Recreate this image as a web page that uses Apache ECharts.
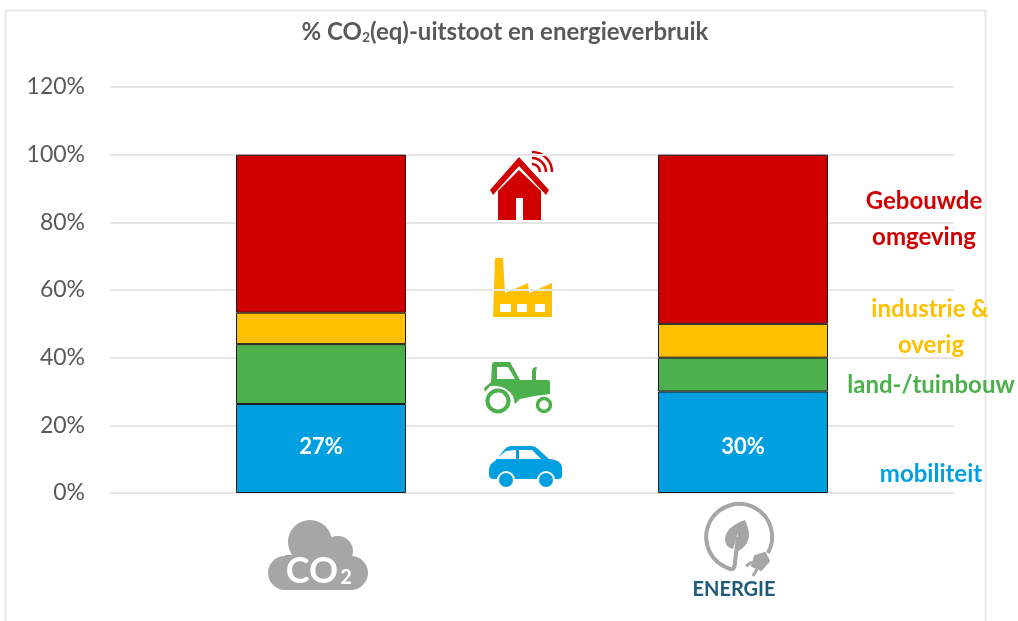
<!DOCTYPE html>
<html><head><meta charset="utf-8">
<style>html,body{margin:0;padding:0;background:#fff}#c{width:1018px;height:621px;filter:blur(0.6px)}</style>
<script src="https://cdn.jsdelivr.net/npm/echarts@6/dist/echarts.min.js"></script>
</head><body><div id="c"></div>
<script>
const categories = ['CO2', 'ENERGIE'];
const mobiliteit = [26.3, 30];
const landTuinbouw = [17.7, 10];
const industrie = [9.3, 10];
const gebouwd = [46.7, 50];
const barLabels = ['27%', '30%'];
const yTicks = [0, 20, 40, 60, 80, 100, 120];

const RED = '#d00000', YEL = '#ffc000', GRN = '#4cb04c', BLU = '#00a0e0', GRY = '#a6a6a6';
const FONT = 'Lato, "Open Sans", sans-serif';
const chart = echarts.init(document.getElementById('c'), null, {renderer: 'canvas'});

function bar(name, data, color, label) {
  const s = {name, type: 'bar', stack: 'a', data, barWidth: 170,
    itemStyle: {color, borderColor: '#1a1a1a', borderWidth: 1}};
  if (label) s.label = {show: true, position: 'insideBottom', distance: 35, color: '#fff', fontFamily: FONT,
    fontWeight: 'bold', fontSize: 22, formatter: p => barLabels[p.dataIndex]};
  return s;
}
function txt(text, x, y, fill, size) {
  return {type: 'text', x, y, silent: true,
    style: {text, fill, font: 'bold ' + (size || 24) + 'px ' + FONT, textAlign: 'center', textVerticalAlign: 'middle'}};
}
let shapeCount = 0;
function p(d, fill, stroke, lw) {
  const name = 'iconShape' + (shapeCount++);
  echarts.graphic.registerShape(name, echarts.graphic.extendPath(d, {}));
  return {type: name, silent: true, style: {fill: fill || 'none', stroke: stroke || 'none', lineWidth: lw || 0}};
}
function ring(cx, cy, r, stroke, lw, fill) {
  return {type: 'circle', silent: true, shape: {cx, cy, r}, style: {fill: fill || '#fff', stroke, lineWidth: lw}};
}
function disc(cx, cy, r, fill) {
  return {type: 'circle', silent: true, shape: {cx, cy, r}, style: {fill}};
}

const graphics = [
  {type: 'rect', silent: true, z: -5, shape: {x: 5.5, y: 10.5, width: 980, height: 640}, style: {fill: 'none', stroke: '#e9e9e9', lineWidth: 2}},
  // house
  p('M498 191 L519 170 L541 191 L541 220 L523 220 L523 198 L516 198 L516 220 L498 220 Z', RED),
  p('M519 157 L549 190 L546 195 L519 166 L493 195 L490 190 Z', RED),
  p('M532 152 A20 20 0 0 1 552 172', null, RED, 2.5),
  p('M532 158 A14 14 0 0 1 546 172', null, RED, 2.5),
  p('M532 164 A8 8 0 0 1 540 172', null, RED, 2.5),
  // factory
  p('M495 258 L503 258 L505 293 L528 283 L529 293 L552 283 L552 317 L493 317 Z', YEL),
  p('M500 304 H511 V312 H500 Z', '#fff'),
  p('M517 304 H527 V312 H517 Z', '#fff'),
  p('M535 304 H545 V312 H535 Z', '#fff'),
  // tractor
  p('M492 365 Q492 362 495 362 L510 362 L520 380 L532 380 L532 372 Q532 367 537 367 L536 372 L536 380 L548 380 Q550 380 550 383 L550 394 L535 396 L520 399 L515 404 L513 396 Q505 384 490 386 L485 392 L484 388 L491 382 Z', GRN),
  p('M497 367 L508 367 L515 379 L497 379 Z', '#fff'),
  ring(498, 401, 10.5, GRN, 4),
  ring(544, 405, 6.5, GRN, 3.5),
  // car
  p('M489 470 Q489 464 495 461 L505 449 Q507 446 512 446 L532 446 Q535 446 538 449 L549 459 Q562 460 562 468 L562 476 Q562 479 558 479 L494 479 Q489 479 489 475 Z', BLU),
  p('M496 459 L506 451 L516 450 L516 459 Z', '#fff'),
  p('M519 450 L532 450 L541 459 L519 459 Z', '#fff'),
  ring(506, 480, 8, '#fff', 2, BLU),
  ring(546, 480, 8, '#fff', 2, BLU),
  // CO2 cloud
  disc(310, 542, 22, GRY),
  disc(338, 551, 15, GRY),
  disc(351, 573, 17, GRY),
  disc(285, 573, 17, GRY),
  {type: 'rect', silent: true, shape: {x: 285, y: 555, width: 66, height: 35}, style: {fill: GRY}},
  txt('CO', 312, 571, '#fff', 36),
  txt('2', 346, 578, '#fff', 20),
  // energy
  p('M768 553 A33 33 0 1 0 728 568 Q735 572 735 562 L738 537', null, GRY, 4),
  p('M745 520 Q725 527 725 540 Q726 548 733 549 L738 533 L737 552 Q756 542 745 520 Z', GRY),
  p('M755 556 L765 553 L769 561 L761 570 L752 566 Z', GRY, GRY, 2),
  p('M752 562 L746 566', null, GRY, 3),
  p('M757 569 L753 576', null, GRY, 3),
  txt('ENERGIE', 734, 590, '#1f5a7a', 20),
  // side labels
  txt('Gebouwde', 924, 201, RED),
  txt('omgeving', 924, 237, RED),
  txt('industrie &', 930, 309, YEL),
  txt('overig', 931, 345, YEL),
  txt('land-/tuinbouw', 931, 385, GRN),
  txt('mobiliteit', 931, 474, BLU)
];

chart.setOption({
  animation: false,
  backgroundColor: '#fff',
  title: {
    text: '{a|% CO}{s|2}{a|(eq)-uitstoot en energieverbruik}',
    left: 500, top: 15, textAlign: 'center',
    textStyle: {rich: {
      a: {fontFamily: FONT, fontWeight: 'bold', fontSize: 24, color: '#595959'},
      s: {fontFamily: FONT, fontWeight: 'bold', fontSize: 14, color: '#595959', verticalAlign: 'bottom', padding: [8, 0, 0, 0]}
    }}
  },
  grid: {left: 110, right: 64, top: 87, bottom: 128},
  xAxis: {type: 'category', data: categories, axisLabel: {show: false}, axisTick: {show: false}, axisLine: {show: false}},
  yAxis: {type: 'value', min: 0, max: 120, interval: 20,
    axisLabel: {fontFamily: FONT, fontSize: 23, color: '#595959', margin: 25,
      formatter: v => yTicks.includes(v) ? v + '%' : ''},
    axisLine: {show: false}, axisTick: {show: false},
    splitLine: {lineStyle: {color: '#e6e6e6', width: 2}}},
  series: [
    bar('mobiliteit', mobiliteit, BLU, true),
    bar('land-/tuinbouw', landTuinbouw, GRN),
    bar('industrie & overig', industrie, YEL),
    bar('Gebouwde omgeving', gebouwd, RED)
  ],
  graphic: {elements: graphics}
});
</script></body></html>
